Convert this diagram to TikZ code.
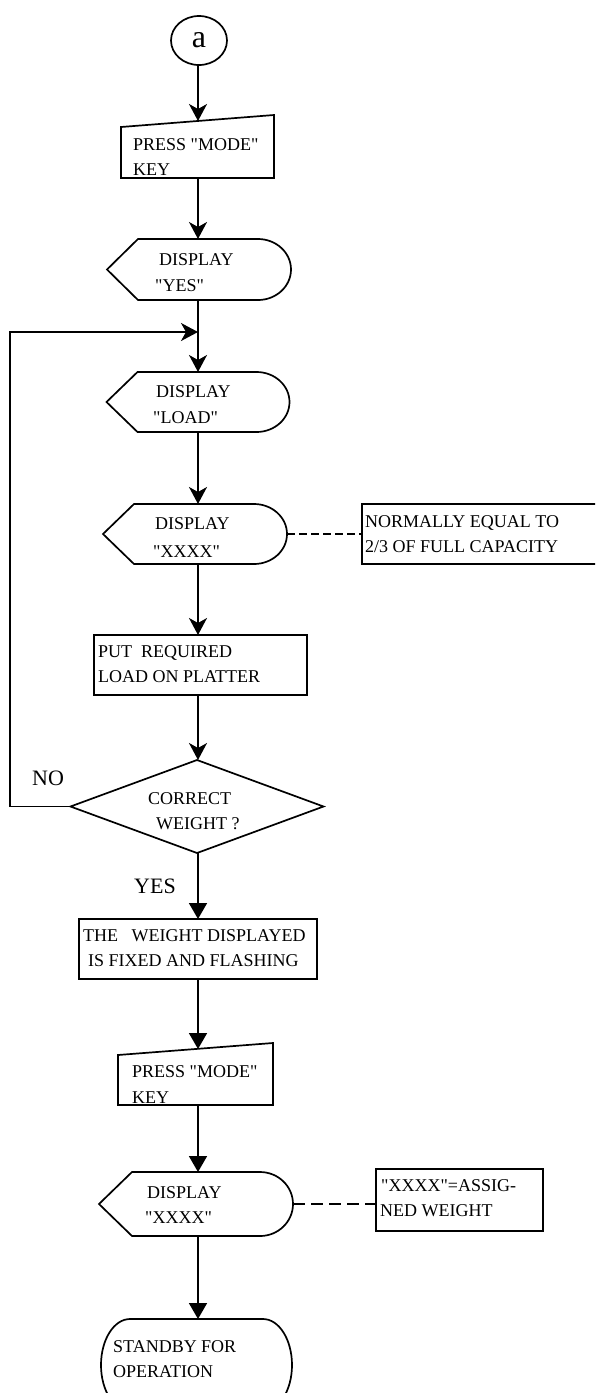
\documentclass[tikz,border=0pt]{standalone}
\usepackage{fontspec}
\setmainfont{Liberation Serif}[Ligatures=TeXOff]
\usetikzlibrary{arrows.meta,shapes.geometric,calc}

% outline of a "display" symbol around a frame node: pointed left end, rounded right end
\newcommand\dispoutline[4]{%
  \draw[outline] (#1.west) -- ([xshift=#2]#1.north west) -- ([xshift=-#3]#1.north east)
    arc[start angle=90, end angle=-90, x radius=#3, y radius=#4]
    -- ([xshift=#2]#1.south west) -- cycle;}
% outline of a "manual input" symbol: slanted top edge
\newcommand\keyoutline[1]{%
  \draw[outline] (#1.south west) -- ([yshift=-6pt]#1.north west)
    -- ([yshift=6pt]#1.north east) -- (#1.south east) -- cycle;}

\begin{document}
\begin{tikzpicture}[x=1pt, y=-1pt,
  outline/.style={line width=1.7pt, line join=miter},
  frame/.style={rectangle, inner sep=0pt, outer sep=0pt},
  boxed/.style={frame, draw, line width=1.7pt},
  arrS/.style={line width=1.7pt, -{Stealth[length=17pt, width=18pt, inset=5pt]}},
  arrT/.style={line width=1.7pt, -{Triangle[length=16pt, width=18pt]}},
  note/.style={line width=1.2pt, dash pattern=on 8pt off 4pt},
  note2/.style={line width=1.2pt, dash pattern=on 12pt off 6pt},
  txt/.style={inner sep=0pt, anchor=base west, font=\fontsize{18}{22}\selectfont},
  big/.style={inner sep=0pt, anchor=base west, font=\fontsize{22}{26}\selectfont}]

\path[use as bounding box, clip] (0,0) rectangle (595,1393);
\coordinate (col) at (198,0);
\coordinate (loop) at (10,0);

% connector symbol
\node[draw, ellipse, line width=1.7pt, minimum width=56pt, minimum height=49pt, inner sep=0pt,
      font=\fontsize{32}{34}\selectfont] (a) at (199,40.5) {a};

% frames of the symbols
\node[frame, minimum width=153pt, minimum height=57pt] (p1) at (197.5,149.5) {};
\node[frame, minimum width=184pt, minimum height=61pt] (dyes) at (199,269.5) {};
\node[frame, minimum width=183pt, minimum height=60pt] (dload) at (198,402) {};
\node[frame, minimum width=184pt, minimum height=60pt] (dx1) at (195,534) {};
\node[boxed, minimum width=238pt, minimum height=60pt] (n1) at (481,534) {};
\node[boxed, minimum width=213pt, minimum height=60pt] (put) at (200.5,665) {};
\node[frame, minimum width=253pt, minimum height=93pt] (dia) at (197,806.5) {};
\node[boxed, minimum width=238pt, minimum height=60pt] (fix) at (198,949) {};
\node[frame, minimum width=155pt, minimum height=56pt] (p2) at (195.5,1077) {};
\node[frame, minimum width=194pt, minimum height=64pt] (dx2) at (196,1204) {};
\node[boxed, minimum width=167pt, minimum height=62pt] (n2) at (459.5,1200) {};
\node[frame, minimum width=191pt, minimum height=92pt] (stby) at (196.5,1365) {};

% outlines
\keyoutline{p1}
\dispoutline{dyes}{31pt}{33pt}{30.5pt}
\dispoutline{dload}{31pt}{33pt}{30pt}
\dispoutline{dx1}{31pt}{33pt}{30pt}
\draw[outline] (dia.north) -- (dia.east) -- (dia.south) -- (dia.west) -- cycle;
\keyoutline{p2}
\dispoutline{dx2}{33pt}{33pt}{32pt}
\draw[outline] ([xshift=29pt]stby.north west) -- ([xshift=-29pt]stby.north east)
  arc[start angle=90, end angle=-90, x radius=29pt, y radius=46pt]
  -- ([xshift=29pt]stby.south west)
  arc[start angle=270, end angle=90, x radius=29pt, y radius=46pt] -- cycle;

% texts
\node[txt] (t1) at (133,150) {PRESS "MODE"};
\node[txt] (t2) at (133,175) {KEY};
\node[txt] (t3) at (159,265) {DISPLAY};
\node[txt] (t4) at (155,291) {"YES"};
\node[txt] (t5) at (156,397) {DISPLAY};
\node[txt] (t6) at (153,423) {"LOAD"};
\node[txt] (t7) at (155,529) {DISPLAY};
\node[txt] (t8) at (153,557) {"XXXX"};
\node[txt] (t9) at (365,527) {NORMALLY EQUAL TO};
\node[txt] (t10) at (365,552) {2/3 OF FULL CAPACITY};
\node[txt] (t11) at (98,657) {PUT\ \ REQUIRED};
\node[txt] (t12) at (98,682) {LOAD ON PLATTER};
\node[txt] (t13) at (148,804) {CORRECT};
\node[txt] (t14) at (156,829) {WEIGHT ?};
\node[big] (no) at (32,785) {NO};
\node[big] (yes) at (134,893) {YES};
\node[txt] (t15) at (83,941) {THE\hspace{13.5pt}WEIGHT DISPLAYED};
\node[txt] (t16) at (88,966) {IS FIXED AND FLASHING};
\node[txt] (t17) at (132,1077) {PRESS "MODE"};
\node[txt] (t18) at (132,1103) {KEY};
\node[txt] (t19) at (147,1198) {DISPLAY};
\node[txt] (t20) at (145,1223) {"XXXX"};
\node[txt] (t21) at (381,1191) {"XXXX"=ASSIG-};
\node[txt] (t22) at (380,1216) {NED WEIGHT};
\node[txt] (t23) at (113,1352) {STANDBY FOR};
\node[txt] (t24) at (113,1377) {OPERATION};

% flow connectors
\coordinate (join) at (198,332);
\draw[arrS] (a.south -| col) -- (p1.north -| col);
\draw[arrS] (p1.south -| col) -- (dyes.north -| col);
\draw[arrS] (dyes.south -| col) -- (dload.north -| col);
\draw[arrS] (dload.south -| col) -- (dx1.north -| col);
\draw[arrS] (dx1.south -| col) -- (put.north -| col);
\draw[arrS] (put.south -| col) -- (dia.north -| col);
\draw[arrS] (dia.west) -- (dia.west -| loop) |- (join);
\draw[arrT] (dia.south -| col) -- (fix.north -| col);
\draw[arrT] (fix.south -| col) -- (p2.north -| col);
\draw[arrT] (p2.south -| col) -- (dx2.north -| col);
\draw[arrT] (dx2.south -| col) -- (stby.north -| col);

% annotation links
\draw[note] (dx1.east) -- (n1.west);
\draw[note2] (dx2.east) -- (dx2.east -| n2.west);
\end{tikzpicture}
\end{document}
